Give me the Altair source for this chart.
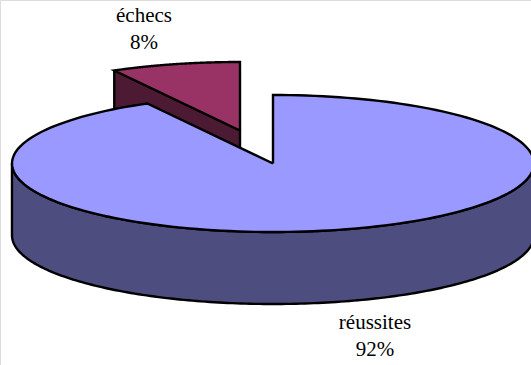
import altair as alt
import numpy as np
import pandas as pd

# Pass rate by outcome
labels = ["réussites", "échecs"]
shares = [92, 8]

WIDTH, HEIGHT = 531, 365
RX, RY = 261, 68.5
MAIN_CENTER = (273, 163.5)
MAIN_DEPTH = 72
SLICE_CENTER = (240, 130.5)
SLICE_DEPTH = 72

SIDE_MAIN, TOP_MAIN = "#4d4d80", "#9999ff"
SIDE_SLICE, TOP_SLICE = "#4d1a33", "#993366"


def rim(center, start_deg, end_deg, drop=0.0):
    """Points on the elliptical rim; angles run clockwise from twelve o'clock."""
    t = np.radians(np.linspace(start_deg, end_deg, 181))
    return list(zip(center[0] + RX * np.sin(t), center[1] - RY * np.cos(t) + drop))


def outline(points, fill):
    frame = pd.DataFrame(points, columns=["x", "y"]).reset_index(names="i")
    return (
        alt.Chart(frame)
        .mark_line(fill=fill, stroke="black", strokeWidth=2.4, strokeJoin="miter", clip=True)
        .encode(
            x=alt.X("x:Q", scale=alt.Scale(domain=[0, WIDTH]), axis=None),
            y=alt.Y("y:Q", scale=alt.Scale(domain=[HEIGHT, 0]), axis=None),
            order="i:Q",
        )
    )


main_sweep = shares[0] / sum(shares) * 360
slice_sweep = shares[1] / sum(shares) * 360

# The detached wedge sits behind the main body
slice_rim = rim(SLICE_CENTER, 360 - slice_sweep, 360)
slice_left = slice_rim[0]
slice_face = [
    slice_left,
    SLICE_CENTER,
    (SLICE_CENTER[0], SLICE_CENTER[1] + SLICE_DEPTH),
    (slice_left[0], slice_left[1] + SLICE_DEPTH),
    slice_left,
]
slice_top = [SLICE_CENTER] + slice_rim + [SLICE_CENTER]

# Main body: front wall, then the top face
front = rim(MAIN_CENTER, 90, 270)
wall = front + rim(MAIN_CENTER, 270, 90, MAIN_DEPTH) + [front[0]]
main_top = [MAIN_CENTER] + rim(MAIN_CENTER, 0, main_sweep) + [MAIN_CENTER]

label_x = [375, 144]
label_y = [323, 16]
text_rows = []
for name, share, x, y in zip(labels, shares, label_x, label_y):
    text_rows.append({"x": x, "y": y, "t": name})
    text_rows.append({"x": x, "y": y + 27, "t": f"{share}%"})

text = (
    alt.Chart(pd.DataFrame(text_rows))
    .mark_text(font="Liberation Serif", fontSize=21, color="black", baseline="middle")
    .encode(
        x=alt.X("x:Q", scale=alt.Scale(domain=[0, WIDTH]), axis=None),
        y=alt.Y("y:Q", scale=alt.Scale(domain=[HEIGHT, 0]), axis=None),
        text="t:N",
    )
)

chart = (
    alt.layer(
        outline(slice_face, SIDE_SLICE),
        outline(slice_top, TOP_SLICE),
        outline(wall, SIDE_MAIN),
        outline(main_top, TOP_MAIN),
        text,
    )
    .properties(width=WIDTH, height=HEIGHT, padding=0, autosize=alt.AutoSizeParams(type="none"))
    .configure_view(stroke=None)
    .configure(background="white")
)

chart.save("out.html", embed_options={"renderer": "svg", "actions": False})
